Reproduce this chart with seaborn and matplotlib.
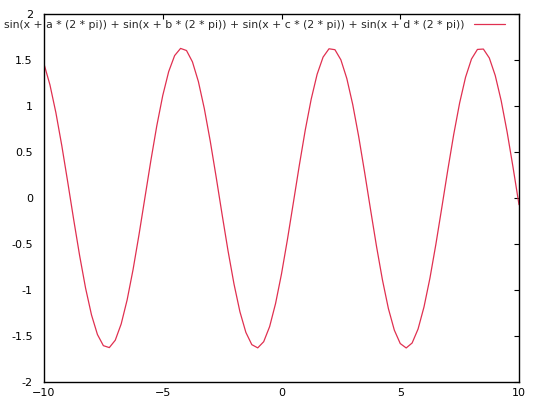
import numpy as np
import pandas as pd
import seaborn as sns
import matplotlib.pyplot as plt

# curve values (x step 0.25)
x_vals = [-10 + 0.25 * i for i in range(81)]
y_vals = [1.457, 1.230, 0.928, 0.568, 0.172, -0.235, -0.626, -0.979, -1.271, -1.484,
          -1.605, -1.626, -1.546, -1.369, -1.108, -0.778, -0.399, 0.005, 0.408, 0.786,
          1.114, 1.374, 1.548, 1.626, 1.603, 1.480, 1.266, 0.972, 0.618, 0.226,
          -0.181, -0.576, -0.935, -1.237, -1.461, -1.594, -1.629, -1.562, -1.398, -1.147,
          -0.825, -0.451, -0.050, 0.355, 0.738, 1.074, 1.345, 1.531, 1.622, 1.612,
          1.502, 1.299, 1.015, 0.668, 0.279, -0.127, -0.525, -0.890, -1.201, -1.436,
          -1.582, -1.630, -1.576, -1.424, -1.184, -0.871, -0.503, -0.104, 0.302, 0.689,
          1.033, 1.313, 1.511, 1.615, 1.619, 1.522, 1.331, 1.057, 0.717, 0.332,
          -0.073]
label = 'sin(x + a * (2 * pi)) + sin(x + b * (2 * pi)) + sin(x + c * (2 * pi)) + sin(x + d * (2 * pi))'
xticks = [-10, -5, 0, 5, 10]
yticks = [-2, -1.5, -1, -0.5, 0, 0.5, 1, 1.5, 2]
yticklabels = ['-2', '-1.5', '-1', '-0.5', '0', '0.5', '1', '1.5', '2']

df = pd.DataFrame({'x': x_vals, 'y': y_vals})

sns.set_style('white')
plt.rcParams['font.family'] = ['DejaVu Sans']

fig = plt.figure(figsize=(5.4, 4.05), dpi=100)
ax = fig.add_axes([44/540, 23/405, 475/540, 368/405])

sns.lineplot(data=df, x='x', y='y', ax=ax, color='#e03050', linewidth=0.9, label=label)

ax.set_xlim(-10, 10)
ax.set_ylim(-2, 2)
ax.set_xticks(xticks)
ax.set_yticks(yticks)
ax.set_yticklabels(yticklabels)
ax.set_xlabel('')
ax.set_ylabel('')
ax.tick_params(direction='in', length=3.6, width=0.8, top=True, right=True,
               labelsize=8, colors='black')
ax.tick_params(axis='y', pad=8)
ax.tick_params(axis='x', pad=4.5)
for s in ax.spines.values():
    s.set_color('black')
    s.set_linewidth(1.0)

ax.legend(loc='upper right', bbox_to_anchor=(0.98, 0.995), frameon=False,
          fontsize=7.8, markerfirst=False, handlelength=2.86, borderaxespad=0,
          handletextpad=0.92)

fig.savefig('out.png', dpi=100)
